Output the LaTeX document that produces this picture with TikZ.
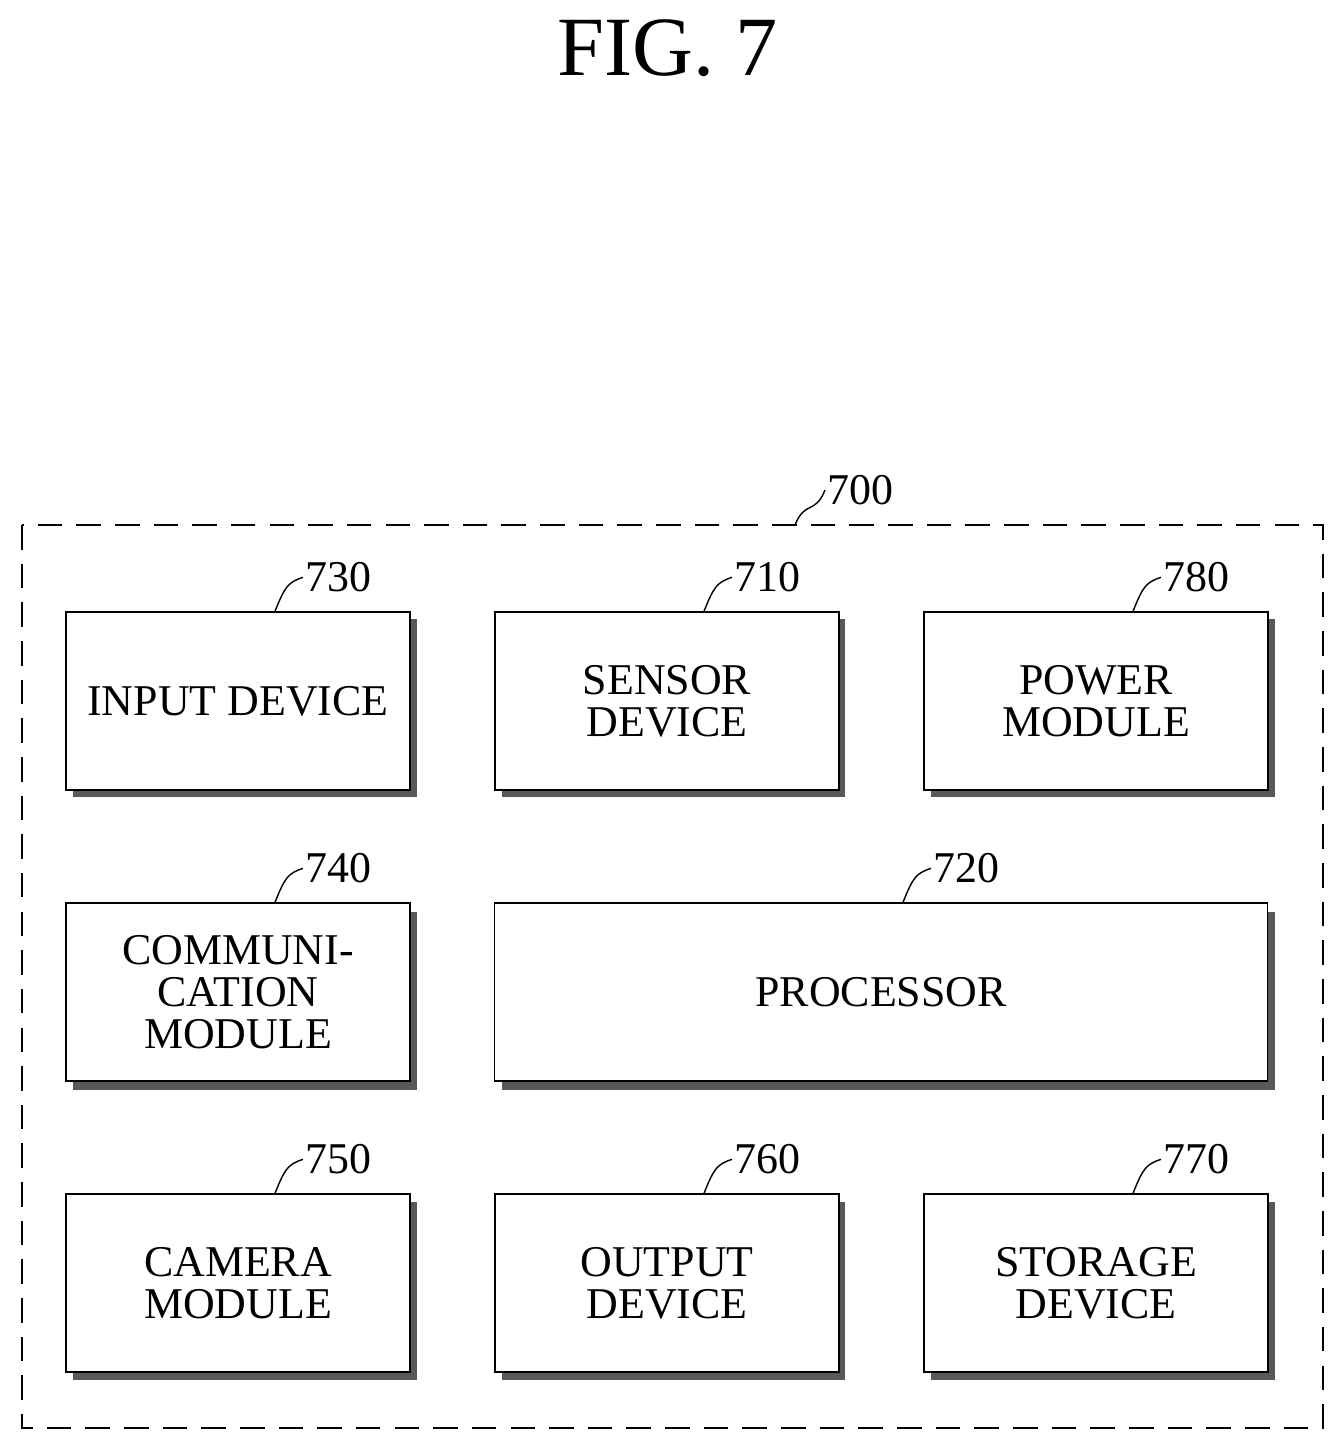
\documentclass[tikz,border=0pt]{standalone}
\usepackage{fontspec}
\setmainfont{Liberation Serif}
\usetikzlibrary{positioning,calc}

\tikzset{
    box/.style={draw, thick, fill=white, minimum width=6.88cm, minimum height=3.56cm,
        align=center, font=\fontsize{25}{24}\selectfont, inner sep=0pt},
    shade/.style={fill=black!65},
    lbl/.style={font=\fontsize{25}{24}\selectfont, anchor=west, inner sep=1pt},
    lead/.style={thick}
}

\begin{document}
\begin{tikzpicture}[x=0.02cm, y=-0.02cm]
    \useasboundingbox (0,0) rectangle (1343,1451);

    % Title
    \node[font=\fontsize{48}{48}\selectfont] (title) at (668,48) {FIG. 7};

    % Outer frame
    \draw[thick, dash pattern=on 14pt off 8pt] (22,525) rectangle (1323,1428);
    \node[lbl] (l700) at (825,490) {700};
    \draw[lead] (795,525) .. controls (805,500) and (815,515) .. (l700.west);

    % Shadows
    \foreach \x/\y/\w in {66/612/344, 495/612/343, 924/612/344,
                          66/905/344, 495/905/773,
                          66/1195/344, 495/1195/343, 924/1195/344}{
        \fill[shade] (\x+7,\y+7) rectangle (\x+\w+7,\y+185);
    }

    % Boxes
    \node[box] (inp)  at (238,701)  {INPUT DEVICE};
    \node[box] (sens) at (667,701)  {SENSOR\\DEVICE};
    \node[box] (pow)  at (1096,701) {POWER\\MODULE};
    \node[box] (comm) at (238,992)  {COMMUNI-\\CATION\\MODULE};
    \node[box, minimum width=15.46cm] (proc) at (881,992) {PROCESSOR};
    \node[box] (cam)  at (238,1283) {CAMERA\\MODULE};
    \node[box] (outp) at (667,1283) {OUTPUT\\DEVICE};
    \node[box] (stor) at (1096,1283) {STORAGE\\DEVICE};

    % Reference numerals
    \foreach \n/\t/\lab in {inp/730, sens/710, pow/780, comm/740, cam/750, outp/760, stor/770}{
        \node[lbl] (l\t) at ($(\n.north)+(65,-34)$) {\t};
        \draw[lead] ($(\n.north)+(37,0)$) .. controls +(10,-25) and +(-15,5) .. (l\t.west);
    }
    \node[lbl] (l720) at ($(proc.north)+(50,-34)$) {720};
    \draw[lead] ($(proc.north)+(22,0)$) .. controls +(10,-25) and +(-15,5) .. (l720.west);
\end{tikzpicture}
\end{document}
